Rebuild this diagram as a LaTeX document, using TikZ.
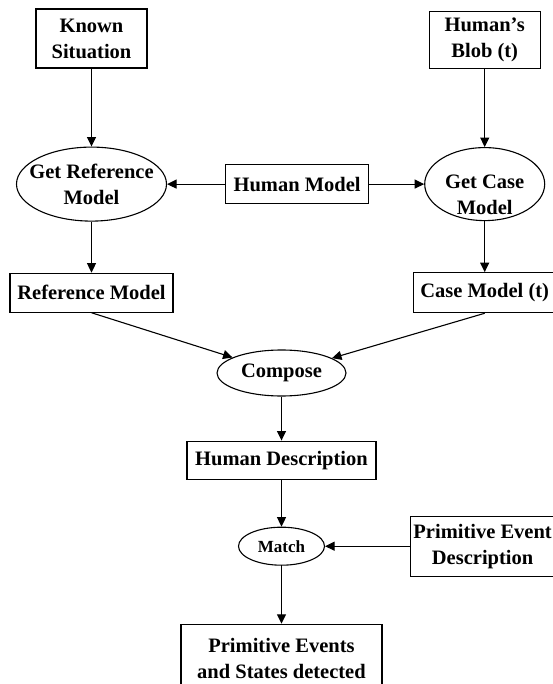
\documentclass[tikz,border=0pt]{standalone}
\usepackage{fontspec}
\setmainfont{Liberation Serif}
\usetikzlibrary{arrows.meta,positioning,shapes.geometric}
\tikzset{
  datum/.style={
    draw,
    line width=1.1pt,
    inner sep=0pt,
    align=center,
    font=\fontsize{20.5}{26}\selectfont\bfseries
  },
  action/.style={
    draw,
    ellipse,
    line width=1.1pt,
    inner sep=0pt,
    align=center,
    font=\fontsize{20.5}{26}\selectfont\bfseries
  },
  flow/.style={-{Triangle[length=9.5pt,width=9pt]}, line width=1.1pt}
}

\begin{document}
\begin{tikzpicture}[x=1pt,y=-1pt]
  \clip (0,0) rectangle (553,684);

  \node[datum, minimum width=111pt, minimum height=59pt] (known) at (91.5,38.5) {Known\\Situation};
  \node[action, minimum width=150pt, minimum height=74pt, inner xsep=-20pt, below=78pt of known] (getref) {Get Reference\\Model};
  \node[datum, minimum width=163pt, minimum height=39pt, below=51pt of getref] (refmodel) {Reference Model};

  \node[datum, minimum width=143pt, minimum height=39pt, right=58pt of getref] (humanmodel) {Human Model};
  \node[action, minimum width=120pt, minimum height=73pt, inner xsep=-8pt, right=55pt of humanmodel] (getcase) {\raisebox{-17pt}[0pt][0pt]{\begin{tabular}{@{}c@{}}Get Case\\Model\end{tabular}}};
  \node[datum, minimum width=111pt, minimum height=57pt, above=78pt of getcase] (blob) {Human’s\\Blob (t)};
  \node[datum, minimum width=142pt, minimum height=40pt, below=51pt of getcase] (casemodel) {Case Model (t)};

  \node[action, minimum width=129pt, minimum height=46pt] (compose) at (281.5,373) {Compose};
  \node[datum, minimum width=189pt, minimum height=38pt, below=44pt of compose] (humandesc) {Human Description};
  \node[action, minimum width=86pt, minimum height=38pt, font=\fontsize{17}{20}\selectfont\bfseries, below=47pt of humandesc] (match) {Match};
  \node[datum, minimum width=144pt, minimum height=60pt, right=85pt of match] (primevent) {Primitive Event\\Description};
  \node[datum, minimum width=201pt, minimum height=69pt, below=58pt of match] (detected) {Primitive Events\\and States detected};

  \draw[flow] (known) -- (getref);
  \draw[flow] (humanmodel) -- (getref);
  \draw[flow] (humanmodel) -- (getcase);
  \draw[flow] (blob) -- (getcase);
  \draw[flow] (getref) -- (refmodel);
  \draw[flow] (getcase) -- (casemodel);
  \draw[flow] (refmodel.south) -- (compose);
  \draw[flow] (casemodel.south) -- (compose);
  \draw[flow] (compose) -- (humandesc);
  \draw[flow] (humandesc) -- (match);
  \draw[flow] (primevent) -- (match);
  \draw[flow] (match) -- (detected);
\end{tikzpicture}
\end{document}
